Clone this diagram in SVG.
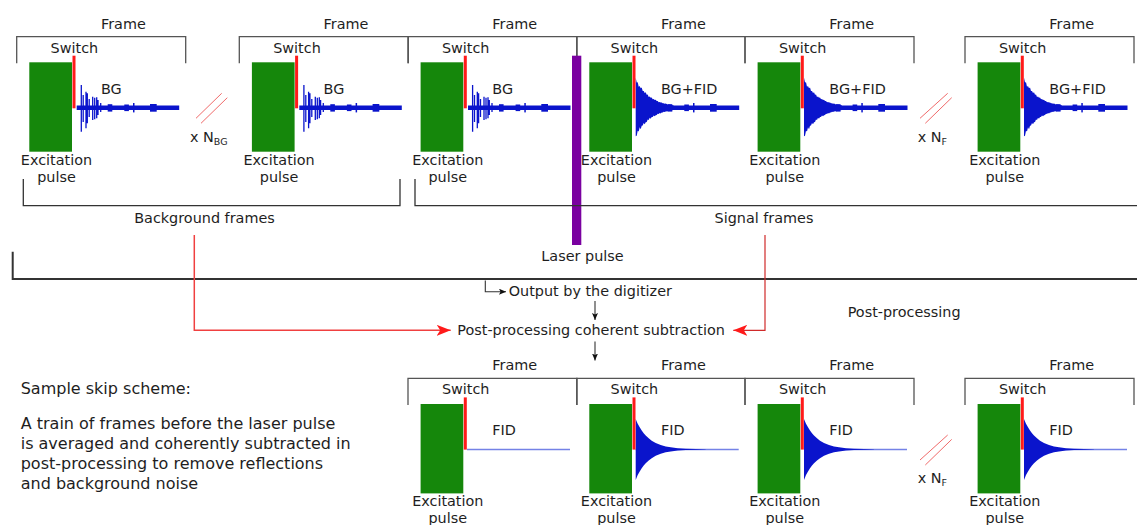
<svg xmlns="http://www.w3.org/2000/svg" xmlns:xlink="http://www.w3.org/1999/xlink" width="1137" height="525" viewBox="0 0 1137 525">
<style>
text{font-family:"DejaVu Sans","Liberation Sans",sans-serif;font-size:14.4px;fill:#1e1e1e}
.m{text-anchor:middle}
.d{font-size:16px}
.br{fill:none;stroke:#555;stroke-width:1.3}
.exc{fill:#15870b}
.sw{fill:#ff1a1a}
.blue{fill:#0a14cc}
.base{stroke:#0a14cc;stroke-width:4.5;fill:none}
.thin{stroke:#7482e6;stroke-width:1.5;fill:none}
.spk{stroke:#0a14cc;stroke-width:1.3;fill:none}
.sl{stroke:#f06a6a;stroke-width:1}
.blk{fill:none;stroke:#333;stroke-width:1.1}
</style>
<defs>
<marker id="ahr" markerWidth="14" markerHeight="11" refX="14" refY="5.5" orient="auto" markerUnits="userSpaceOnUse"><path d="M0,0 L14,5.5 L0,11 L3.5,5.5 Z" fill="#ff1a1a"/></marker>
<marker id="ahk" markerWidth="7" markerHeight="6" refX="7" refY="3" orient="auto" markerUnits="userSpaceOnUse"><path d="M0,0 L7,3 L0,6 L1.5,3 Z" fill="#111"/></marker>
<g id="sq">
<path class="base" d="M60,107.7 H162.5"/>
<rect class="blue" x="91" y="104.2" width="4.6" height="7.4"/>
<rect class="blue" x="107.6" y="104.5" width="4.6" height="6.6"/>
<rect class="blue" x="116.3" y="103" width="1.5" height="9.4"/>
<rect class="blue" x="133.3" y="104" width="6.7" height="7.7"/>
</g>
<g id="wf-bg">
<use href="#sq"/>
<path class="spk" d="M64.6,85V131.7 M66.5,95V122 M69.3,91.7V128.3 M70.6,93.3V123.3 M72.5,99V117 M76,96.7V120 M78,97.7V119.3 M80,97.3V118.3 M81.3,100V115 M84,103V112"/>
</g>
<g id="wf-bgfid">
<use href="#sq"/>
<path class="blue" transform="translate(59,107.7)" d="M0,-30 L1,-25.3 L2,-25.5 L3,-20.9 L4,-21.8 L5,-19.4 L6,-20.1 L7,-16.6 L8,-16.7 L9,-14.8 L10,-15.4 L11,-13 L12,-13.1 L13,-10.7 L14,-11.2 L15,-9.9 L16,-10.3 L17,-8.5 L18,-8.6 L19,-7.6 L20,-7.9 L21,-6.7 L22,-6.7 L23,-5.5 L24,-5.8 L25,-5.1 L26,-5.3 L27,-4.4 L28,-4.4 L29,-3.9 L30,-4.1 L32,-3.3 L34,-3.1 L36,-2.6 L38,-2.2 L38,2.2 L36,2.6 L34,3 L32,3.5 L30,3.9 L29,4.3 L28,4 L27,4.7 L26,4.8 L25,5.7 L24,5.2 L23,6.3 L22,6.1 L21,7.4 L20,7.5 L19,8.5 L18,7.9 L17,9.2 L16,9.3 L15,11 L14,10 L13,12.2 L12,11.9 L11,14.4 L10,14.6 L9,16.5 L8,15.3 L7,17.9 L6,18.1 L5,21.5 L4,19.5 L3,23.8 L2,23.1 L1,28.1 L0,28.5 Z"/>
</g>
<g id="wf-flat">
<path class="thin" d="M59,107.7 H162"/>
</g>
<g id="wf-fid">
<path class="thin" d="M59,107.7 H162"/>
<path class="blue" transform="translate(59,107.7)" d="M0,-30.5 L1,-28 L2,-25.7 L4,-22.05 L6,-18.9 L8,-16.2 L10,-13.9 L13,-11.04 L16,-8.76 L20,-6.44 L25,-4.38 L30,-2.97 L35,-2.03 L42,-1.19 L50,-0.64 L60,-0.3 L70,-0.1 L70,0.1 L60,0.3 L50,0.64 L42,1.19 L35,2.03 L30,2.97 L25,4.38 L20,6.44 L16,8.76 L13,11.04 L10,13.9 L8,16.2 L6,18.9 L4,22.05 L2,25.7 L1,28 L0,30.5 Z"/>
</g>
</defs>

<!-- top row -->
<g id="frame-bg-1" transform="translate(16.7,0)">
<path class="br" d="M0,63.3 V36.7 H169 V63.3"/>
<text x="106.7" y="28.5" class="m">Frame</text>
<text x="57.7" y="52.5" class="m">Switch</text>
<rect class="exc" x="12.6" y="62.3" width="42.7" height="89.4"/>
<use href="#wf-bg"/>
<rect class="sw" x="55.8" y="55.7" width="3" height="52.6"/>
<text x="84.3" y="93.5">BG</text>
<text x="39.8" y="164.5" class="m">Excitation</text>
<text x="39.8" y="181.5" class="m">pulse</text>
</g>
<g id="frame-bg-2" transform="translate(239.3,0)">
<path class="br" d="M0,63.3 V36.7 H169 V63.3"/>
<text x="106.7" y="28.5" class="m">Frame</text>
<text x="57.7" y="52.5" class="m">Switch</text>
<rect class="exc" x="12.6" y="62.3" width="42.7" height="89.4"/>
<use href="#wf-bg"/>
<rect class="sw" x="55.8" y="55.7" width="3" height="52.6"/>
<text x="84.3" y="93.5">BG</text>
<text x="39.8" y="164.5" class="m">Excitation</text>
<text x="39.8" y="181.5" class="m">pulse</text>
</g>
<g id="frame-bg-3" transform="translate(408,0)">
<path class="br" d="M0,63.3 V36.7 H169 V63.3"/>
<text x="106.7" y="28.5" class="m">Frame</text>
<text x="57.7" y="52.5" class="m">Switch</text>
<rect class="exc" x="12.6" y="62.3" width="42.7" height="89.4"/>
<use href="#wf-bg"/>
<rect class="sw" x="55.8" y="55.7" width="3" height="52.6"/>
<text x="84.3" y="93.5">BG</text>
<text x="39.8" y="164.5" class="m">Excitation</text>
<text x="39.8" y="181.5" class="m">pulse</text>
</g>
<g id="frame-sig-1" transform="translate(576.7,0)">
<path class="br" d="M0,63.3 V36.7 H168.3 V63.3"/>
<text x="106.7" y="28.5" class="m">Frame</text>
<text x="57.7" y="52.5" class="m">Switch</text>
<rect class="exc" x="12.6" y="62.3" width="42.7" height="89.4"/>
<use href="#wf-bgfid"/>
<rect class="sw" x="55.8" y="55.7" width="3" height="52.6"/>
<text x="84.3" y="93.5">BG+FID</text>
<text x="39.8" y="164.5" class="m">Excitation</text>
<text x="39.8" y="181.5" class="m">pulse</text>
</g>
<g id="frame-sig-2" transform="translate(745,0)">
<path class="br" d="M0,63.3 V36.7 H169 V63.3"/>
<text x="106.7" y="28.5" class="m">Frame</text>
<text x="57.7" y="52.5" class="m">Switch</text>
<rect class="exc" x="12.6" y="62.3" width="42.7" height="89.4"/>
<use href="#wf-bgfid"/>
<rect class="sw" x="55.8" y="55.7" width="3" height="52.6"/>
<text x="84.3" y="93.5">BG+FID</text>
<text x="39.8" y="164.5" class="m">Excitation</text>
<text x="39.8" y="181.5" class="m">pulse</text>
</g>
<g id="frame-sig-n" transform="translate(965,0)">
<path class="br" d="M0,63.3 V36.7 H169 V63.3"/>
<text x="106.7" y="28.5" class="m">Frame</text>
<text x="57.7" y="52.5" class="m">Switch</text>
<rect class="exc" x="12.6" y="62.3" width="42.7" height="89.4"/>
<use href="#wf-bgfid"/>
<rect class="sw" x="55.8" y="55.7" width="3" height="52.6"/>
<text x="84.3" y="93.5">BG+FID</text>
<text x="39.8" y="164.5" class="m">Excitation</text>
<text x="39.8" y="181.5" class="m">pulse</text>
</g>

<g id="repeat-bg">
<line class="sl" x1="196" y1="118.3" x2="221.7" y2="93.3"/>
<line class="sl" x1="201" y1="123.3" x2="227.3" y2="97.7"/>
<text x="190" y="141.7">x N<tspan font-size="9.5" dy="3">BG</tspan></text>
</g>
<g id="repeat-f-top">
<line class="sl" x1="920" y1="118.3" x2="947.7" y2="93.3"/>
<line class="sl" x1="925.3" y1="123.3" x2="951.7" y2="97.7"/>
<text x="917.7" y="141.7">x N<tspan font-size="9.5" dy="3">F</tspan></text>
</g>

<g id="laser">
<rect x="572" y="55.7" width="9.3" height="189.3" fill="#7a00a0"/>
<text x="582.5" y="260.7" class="m">Laser pulse</text>
</g>

<g id="bg-group">
<path class="br" style="stroke:#333" d="M23.3,179 V205.7 H400 V179"/>
<text x="204.5" y="223.3" class="m">Background frames</text>
</g>
<g id="sig-group">
<path class="br" style="stroke:#333" d="M415,179 V205.7 H1140"/>
<text x="764" y="223.3" class="m">Signal frames</text>
</g>

<g id="separator">
<path d="M12.7,251.7 V279 H1140" fill="none" stroke="#333" stroke-width="2"/>
<text x="847.7" y="316.7">Post-processing</text>
</g>

<g id="digitizer"><text x="508.7" y="295.5">Output by the digitizer</text></g>
<g id="subtraction"><text x="457.3" y="335">Post-processing coherent subtraction</text></g>

<g id="connectors">
<path d="M194.3,235 V330.3 H450.7" fill="none" stroke="#f04040" stroke-width="1.5" marker-end="url(#ahr)"/>
<path d="M765,235 V330.3 H733.3" fill="none" stroke="#d02a2a" stroke-width="1.2" marker-end="url(#ahr)"/>
<path class="blk" d="M485.3,280.5 V291.7 H506" marker-end="url(#ahk)"/>
<path class="blk" d="M595,301 V320" marker-end="url(#ahk)"/>
<path class="blk" d="M595,341.5 V360.5" marker-end="url(#ahk)"/>
</g>

<!-- bottom row -->
<g id="frame-out-1" transform="translate(408,341.7)">
<path class="br" d="M0,63.3 V36.7 H169 V63.3"/>
<text x="106.7" y="28.5" class="m">Frame</text>
<text x="57.7" y="52.5" class="m">Switch</text>
<rect class="exc" x="12.6" y="62.3" width="42.7" height="89.4"/>
<use href="#wf-flat"/>
<rect class="sw" x="55.8" y="55.7" width="3" height="52.2"/>
<text x="84.3" y="93.5">FID</text>
<text x="39.8" y="164.5" class="m">Excitation</text>
<text x="39.8" y="181.5" class="m">pulse</text>
</g>
<g id="frame-out-2" transform="translate(576.7,341.7)">
<path class="br" d="M0,63.3 V36.7 H168.3 V63.3"/>
<text x="106.7" y="28.5" class="m">Frame</text>
<text x="57.7" y="52.5" class="m">Switch</text>
<rect class="exc" x="12.6" y="62.3" width="42.7" height="89.4"/>
<use href="#wf-fid"/>
<rect class="sw" x="55.8" y="55.7" width="3" height="52.2"/>
<text x="84.3" y="93.5">FID</text>
<text x="39.8" y="164.5" class="m">Excitation</text>
<text x="39.8" y="181.5" class="m">pulse</text>
</g>
<g id="frame-out-3" transform="translate(745,341.7)">
<path class="br" d="M0,63.3 V36.7 H169 V63.3"/>
<text x="106.7" y="28.5" class="m">Frame</text>
<text x="57.7" y="52.5" class="m">Switch</text>
<rect class="exc" x="12.6" y="62.3" width="42.7" height="89.4"/>
<use href="#wf-fid"/>
<rect class="sw" x="55.8" y="55.7" width="3" height="52.2"/>
<text x="84.3" y="93.5">FID</text>
<text x="39.8" y="164.5" class="m">Excitation</text>
<text x="39.8" y="181.5" class="m">pulse</text>
</g>
<g id="frame-out-n" transform="translate(965,341.7)">
<path class="br" d="M0,63.3 V36.7 H169 V63.3"/>
<text x="106.7" y="28.5" class="m">Frame</text>
<text x="57.7" y="52.5" class="m">Switch</text>
<rect class="exc" x="12.6" y="62.3" width="42.7" height="89.4"/>
<use href="#wf-fid"/>
<rect class="sw" x="55.8" y="55.7" width="3" height="52.2"/>
<text x="84.3" y="93.5">FID</text>
<text x="39.8" y="164.5" class="m">Excitation</text>
<text x="39.8" y="181.5" class="m">pulse</text>
</g>
<g id="repeat-f-bottom">
<line class="sl" x1="920" y1="460" x2="947.7" y2="435"/>
<line class="sl" x1="925.3" y1="465" x2="951.7" y2="439.4"/>
<text x="917.7" y="483.4">x N<tspan font-size="9.5" dy="3">F</tspan></text>
</g>

<g id="description">
<text class="d" x="20.7" y="394.3">Sample skip scheme:</text>
<text class="d" x="20.7" y="428.5">A train of frames before the laser pulse</text>
<text class="d" x="20.7" y="448.5">is averaged and coherently subtracted in</text>
<text class="d" x="20.7" y="468.5">post-processing to remove reflections</text>
<text class="d" x="20.7" y="488.5">and background noise</text>
</g>
</svg>
